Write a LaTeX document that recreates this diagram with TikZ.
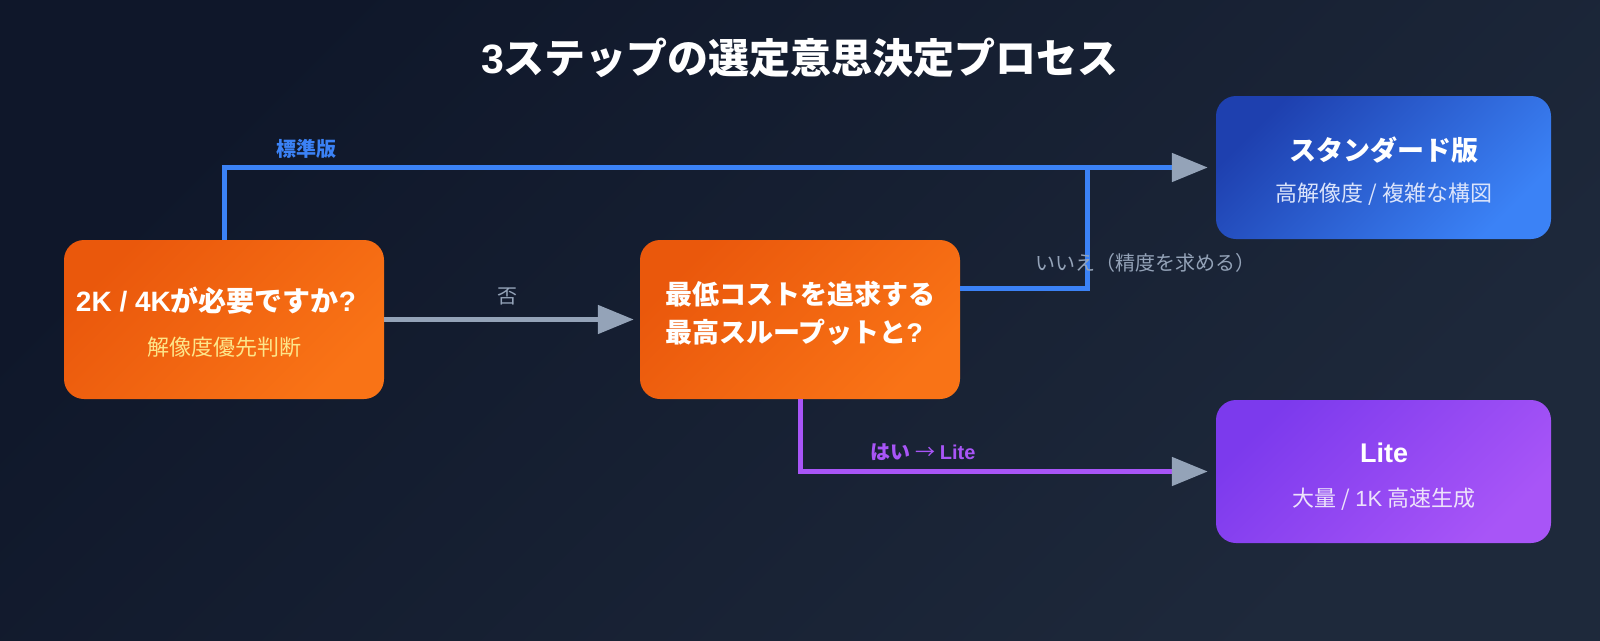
\documentclass[tikz,border=0pt]{standalone}
\usepackage{fontspec}
\setmainfont{Noto Sans CJK JP}
\newfontfamily\lat{Liberation Sans}
\usetikzlibrary{arrows.meta}
\definecolor{bgA}{HTML}{0F172A}
\definecolor{bgB}{HTML}{1E293B}
\definecolor{orA}{HTML}{EA580C}
\definecolor{orB}{HTML}{F97316}
\definecolor{blA}{HTML}{1E40AF}
\definecolor{blB}{HTML}{3B82F6}
\definecolor{puA}{HTML}{7C3AED}
\definecolor{puB}{HTML}{A855F7}
\definecolor{lineblue}{HTML}{3B82F6}
\definecolor{linepurple}{HTML}{A855F7}
\definecolor{linegray}{HTML}{94A3B8}
\definecolor{subyellow}{HTML}{FDE68A}
\definecolor{subblue}{HTML}{DBE4FB}
\definecolor{subpurple}{HTML}{EDE3FB}
\begin{document}
\begin{tikzpicture}[x=1pt,y=-1pt,
  box/.style={rounded corners=20pt, minimum width=320pt, minimum height=159pt, inner sep=0pt},
  boxtitle/.style={text=white, font=\fontsize{27}{38}\selectfont\bfseries, inner sep=0pt},
  boxsub/.style={font=\fontsize{22}{26}\selectfont, inner sep=0pt},
  lbl/.style={font=\fontsize{20}{24}\selectfont, inner sep=0pt},
  conn/.style={line width=5pt},
  tip/.style={-{Triangle[length=36pt,width=28pt,color=linegray]}}
]
\shade[top color=bgA, bottom color=bgB, shading angle=45] (0,0) rectangle (1600,640);
\useasboundingbox (0,0) rectangle (1600,640);

\node[text=white, font=\fontsize{41}{48}\selectfont\bfseries, inner sep=0pt] (title) at (800,58) {{\lat 3}ステップの選定意思決定プロセス};

% boxes
\node[box, top color=orA, bottom color=orB, shading angle=45] (q1) at (224,319.5) {};
\node[box, top color=orA, bottom color=orB, shading angle=45] (q2) at (800,319.5) {};
\node[box, minimum width=335pt, minimum height=143pt, top color=blA, bottom color=blB, shading angle=45] (std) at (1383.5,167.5) {};
\node[box, minimum width=335pt, minimum height=143pt, top color=puA, bottom color=puB, shading angle=45] (lite) at (1383.5,471.5) {};

% connectors
\coordinate (j) at (1087.5,167.5);
\draw[conn, lineblue, tip, shorten >=8pt] (q1.north) |- (std.west);
\draw[conn, lineblue] ([yshift=31.5pt]q2.east) -| (j);
\draw[conn, linegray, tip, shorten >=6pt] (q1.east) -- (q2.west);
\draw[conn, linepurple, tip, shorten >=8pt] (q2.south) |- (lite.west);

% box texts
\node[boxtitle, font=\fontsize{28}{38}\selectfont\bfseries] (q1t) at (216,301) {{\lat 2K / 4K}が必要ですか{\lat ?}};
\node[boxsub, text=subyellow] (q1s) at (224,347) {解像度優先判断};
\node[boxtitle, align=left] (q2t) at (800,313) {最低コストを追求する\\最高スループットと{\lat ?}};
\node[boxtitle] (stdt) at (1384,150) {スタンダード版};
\node[boxsub, text=subblue] (stds) at (1384,194) {高解像度 / 複雑な構図};
\node[boxtitle] (litet) at (1384,453) {\lat Lite};
\node[boxsub, text=subpurple] (lites) at (1384,499) {大量 / {\lat 1K} 高速生成};

% labels
\node[lbl, text=lineblue, font=\fontsize{20}{24}\selectfont\bfseries] (l1) at (306,149) {標準版};
\node[lbl, text=linegray] (l2) at (507,296) {否};
\node[lbl, text=linegray] (l3) at (1145,263) {いいえ（精度を求める）};
\node[lbl, text=linepurple, font=\fontsize{20}{24}\selectfont\bfseries] (l4) at (923,452) {はい {\mdseries →} {\lat Lite}};
\end{tikzpicture}
\end{document}
